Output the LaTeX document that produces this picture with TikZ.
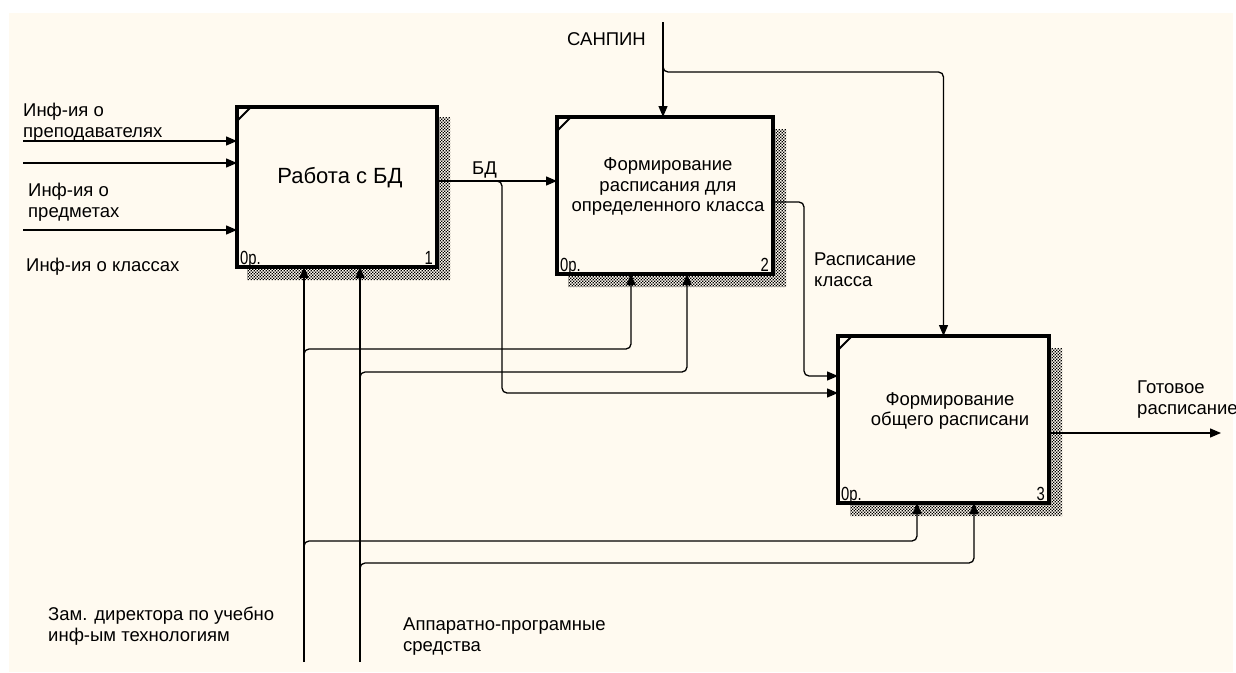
\documentclass[tikz,border=0pt]{standalone}
\usepackage{fontspec}
\setmainfont{Liberation Sans}
\usetikzlibrary{arrows.meta,patterns}
\definecolor{paper}{RGB}{255,250,240}

% fine checker of dots for the box shadows
\pgfdeclarepatternformonly{shadowdots}{\pgfqpoint{-0.1pt}{-0.1pt}}{\pgfqpoint{3.1pt}{3.1pt}}{\pgfqpoint{3pt}{3pt}}{%
  \pgfpathrectangle{\pgfqpoint{0pt}{0pt}}{\pgfqpoint{1.3pt}{1.3pt}}%
  \pgfpathrectangle{\pgfqpoint{1.5pt}{1.5pt}}{\pgfqpoint{1.3pt}{1.3pt}}%
  \pgfusepath{fill}}

% condensed text for the box corner marks
\newcommand\cornertext[1]{\scalebox{0.78}[1]{#1}}

\begin{document}
\begin{tikzpicture}[x=1pt,y=-1pt,
  lbl/.style={font=\fontsize{18.5}{21}\selectfont, align=left, anchor=north west, inner sep=0pt},
  boxtext/.style={font=\fontsize{18.5}{20.5}\selectfont, align=center, inner sep=0pt},
  corner/.style={font=\fontsize{19}{19}\selectfont, inner sep=0pt},
  fn/.style={draw, line width=3.5pt, fill=paper, inner sep=0pt, outer sep=0pt},
  shade/.style={pattern=shadowdots, pattern color=black},
  flow/.style={line width=1.3pt, rounded corners=5pt, -{Triangle[length=11pt,width=9pt]}}
]
\useasboundingbox (0,0) rectangle (1236,672);
\fill[white] (0,0) rectangle (1236,672);
\fill[paper] (9,13) rectangle (1233,672);

% shadows behind the function boxes
\fill[shade] (437,117) rectangle (450,280) (247,267) rectangle (450,280);
\fill[shade] (773,129) rectangle (786,287) (568,274) rectangle (786,287);
\fill[shade] (1049,348) rectangle (1062,516) (850,503) rectangle (1062,516);

% function boxes
\node[fn, minimum width=200pt, minimum height=160pt] (b1) at (337,187) {};
\node[fn, minimum width=216pt, minimum height=157pt] (b2) at (665,195.5) {};
\node[fn, minimum width=211pt, minimum height=167pt] (b3) at (943.5,419.5) {};

\foreach \b in {b1,b2,b3}
  \draw[line width=2pt] ([shift={(0,14)}]\b.north west) -- ([shift={(14,0)}]\b.north west);

\node[font=\fontsize{22}{24}\selectfont, inner sep=0pt] (t1) at (340,178) {Работа с БД};
\node[boxtext] (t2) at (668,187) {Формирование\\расписания для\\определенного класса};
\node[boxtext] (t3) at (950,411) {Формирование\\общего расписани};

\node[corner, anchor=base west] (o1) at ([shift={(3,-3)}]b1.south west) {\cornertext{0р.}};
\node[corner, anchor=base east] (n1) at ([shift={(-4,-3)}]b1.south east) {\cornertext{1}};
\node[corner, anchor=base west] (o2) at ([shift={(3,-3)}]b2.south west) {\cornertext{0р.}};
\node[corner, anchor=base east] (n2) at ([shift={(-4,-3)}]b2.south east) {\cornertext{2}};
\node[corner, anchor=base west] (o3) at ([shift={(3,-3)}]b3.south west) {\cornertext{0р.}};
\node[corner, anchor=base east] (n3) at ([shift={(-4,-3)}]b3.south east) {\cornertext{3}};

% free ends of the arrows
\coordinate (in1) at (23,141);
\coordinate (in2) at (23,163);
\coordinate (in3) at (23,230);
\coordinate (san) at (663,22);
\coordinate (c1) at (304,662);
\coordinate (c2) at (360,662);
\coordinate (out) at (1221,433);

% inputs of box 1
\draw[flow] (in1) -- (in1 -| b1.west);
\draw[flow] (in2) -- (in2 -| b1.west);
\draw[flow] (in3) -- (in3 -| b1.west);

% БД
\coordinate (bd) at ([shift={(0,-6)}]b1.east);
\draw[flow] (bd) -- (bd -| b2.west);
\draw[flow] (490,181) -- (502,181) -- (502,393) -- (b3.west |- 0,393);

% Расписание класса
\draw[flow] (b2.east |- 0,202) -- (804,202) -- (804,376) -- (b3.west |- 0,376);

% САНПИН
\draw[flow] (san) -- (san |- b2.north);
\draw[flow] (663,64) -- (663,72) -- (b3.north |- 0,72) -- (b3.north);

% mechanisms
\draw[flow] (c1) -- (c1 |- b1.south);
\draw[flow] (c2) -- (c2 |- b1.south);
\draw[flow] (304,355) -- (304,349) -- (631,349) -- (631,349 |- b2.south);
\draw[flow] (360,378) -- (360,372) -- (687,372) -- (687,372 |- b2.south);
\draw[flow] (304,547) -- (304,541) -- (917,541) -- (917,541 |- b3.south);
\draw[flow] (360,569) -- (360,563) -- (974,563) -- (974,563 |- b3.south);

% output
\draw[flow] (b3.east |- out) -- (out);

% labels
\node[lbl] (l1) at (23,103) {Инф-ия о\\преподавателях};
\node[lbl] (l2) at (28,183) {Инф-ия о\\предметах};
\node[lbl] (l3) at (26,258) {Инф-ия о классах};
\node[lbl] (l4) at (472,162) {БД};
\node[lbl] (l5) at (567,32) {САНПИН};
\node[lbl] (l6) at (814,253) {Расписание\\класса};
\node[lbl] (l7) at (1137,381) {Готовое\\расписание};
\node[lbl] (l8) at (48,607) {Зам. директора по учебно\\инф-ым технологиям};
\node[lbl] (l9) at (403,618) {Аппаратно-програмные\\средства};
\end{tikzpicture}
\end{document}
